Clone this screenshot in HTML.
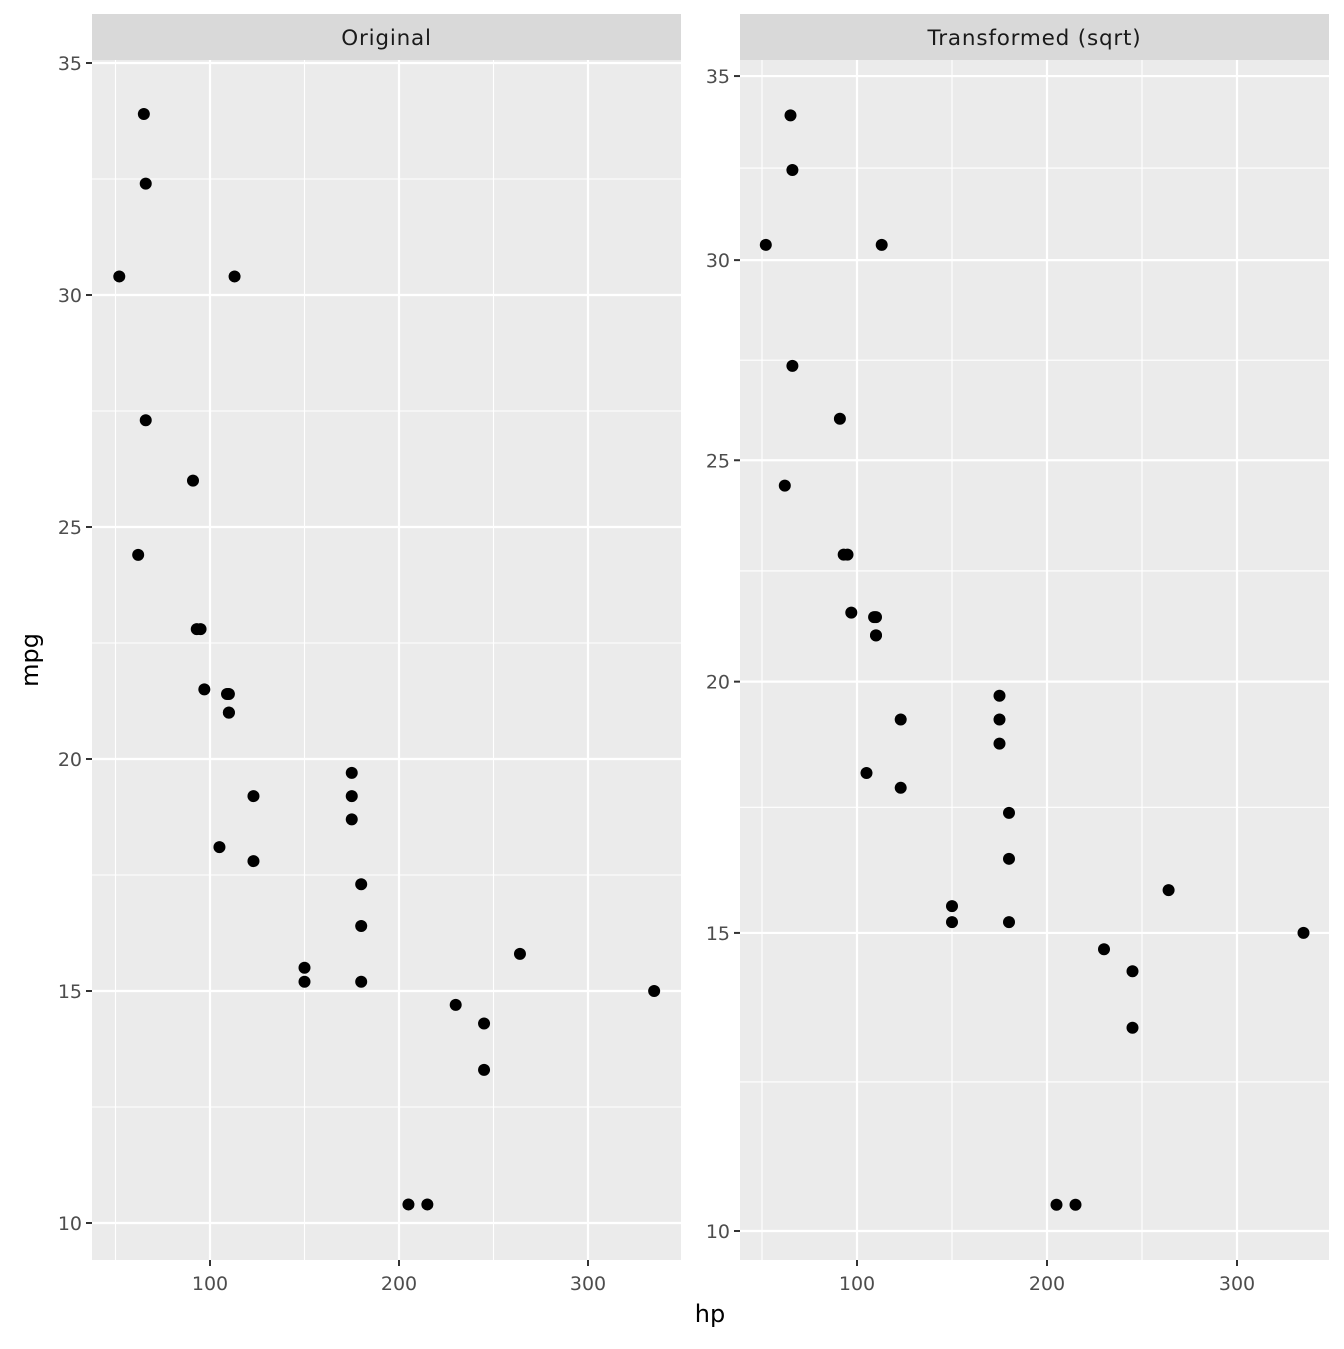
<!DOCTYPE html>
<html><head><meta charset="utf-8"><style>
html,body{margin:0;padding:0;background:#fff}
svg text{font-family:"DejaVu Sans","Liberation Sans",sans-serif}
</style></head><body>
<svg id="s" width="1344" height="1344" xmlns="http://www.w3.org/2000/svg"></svg>
<script>
const d=[[110,21],[110,21],[93,22.8],[110,21.4],[175,18.7],[105,18.1],[245,14.3],[62,24.4],[95,22.8],[123,19.2],[123,17.8],[180,16.4],[180,17.3],[180,15.2],[205,10.4],[215,10.4],[230,14.7],[66,32.4],[52,30.4],[65,33.9],[97,21.5],[150,15.5],[150,15.2],[245,13.3],[175,19.2],[66,27.3],[91,26],[113,30.4],[264,15.8],[175,19.7],[335,15],[109,21.4]];
let h='';
function panel(x0,x1,xf,yf,title,minorY){
  h+=`<rect x="${x0}" y="14" width="${x1-x0}" height="46" fill="#d9d9d9"/>`;
  h+=`<text x="${(x0+x1)/2}" y="45" font-size="21.5" letter-spacing="0.8" text-anchor="middle" fill="#1a1a1a">${title}</text>`;
  h+=`<rect x="${x0}" y="60" width="${x1-x0}" height="1200" fill="#ebebeb"/>`;
  for(const v of [50,150,250]) h+=`<line x1="${xf(v)}" x2="${xf(v)}" y1="60" y2="1260" stroke="#fff" stroke-width="1.1"/>`;
  for(const y of minorY) h+=`<line x1="${x0}" x2="${x1}" y1="${y}" y2="${y}" stroke="#fff" stroke-width="1.1"/>`;
  for(const v of [100,200,300]){h+=`<line x1="${xf(v)}" x2="${xf(v)}" y1="60" y2="1260" stroke="#fff" stroke-width="2.2"/>`;
    h+=`<line x1="${xf(v)}" x2="${xf(v)}" y1="1260" y2="1266" stroke="#333" stroke-width="2"/>`;
    h+=`<text x="${xf(v)}" y="1290" font-size="19" text-anchor="middle" fill="#4d4d4d">${v}</text>`;}
  for(const v of [10,15,20,25,30,35]){const y=yf(v);h+=`<line x1="${x0}" x2="${x1}" y1="${y}" y2="${y}" stroke="#fff" stroke-width="2.2"/>`;
    h+=`<line x1="${x0-6}" x2="${x0}" y1="${y}" y2="${y}" stroke="#333" stroke-width="2"/>`;
    h+=`<text x="${x0-10}" y="${y+7}" font-size="19" text-anchor="end" fill="#4d4d4d">${v}</text>`;}
  for(const [a,b] of d) h+=`<circle cx="${xf(a)}" cy="${yf(b)}" r="6" fill="#000"/>`;
}
const lx=v=>210+(v-100)*1.89, ly=v=>295-(v-30)*46.4;
panel(92,681,lx,ly,"Original",[12.5,17.5,22.5,27.5,32.5].map(ly));
const rx=v=>857+(v-100)*1.9, ry=v=>1231-(Math.sqrt(v)-Math.sqrt(10))*419.4;
const mids=[];const m=[10,15,20,25,30,35];for(let i=0;i<5;i++){mids.push(1231-((Math.sqrt(m[i])+Math.sqrt(m[i+1]))/2-Math.sqrt(10))*419.4);}
panel(740,1329,rx,ry,"Transformed (sqrt)",mids);
h+=`<text x="710" y="1322" font-size="24" text-anchor="middle" fill="#000">hp</text>`;
h+=`<text transform="translate(38,660) rotate(-90)" font-size="24" text-anchor="middle" fill="#000">mpg</text>`;
document.getElementById('s').innerHTML=h;
</script>
</body></html>
